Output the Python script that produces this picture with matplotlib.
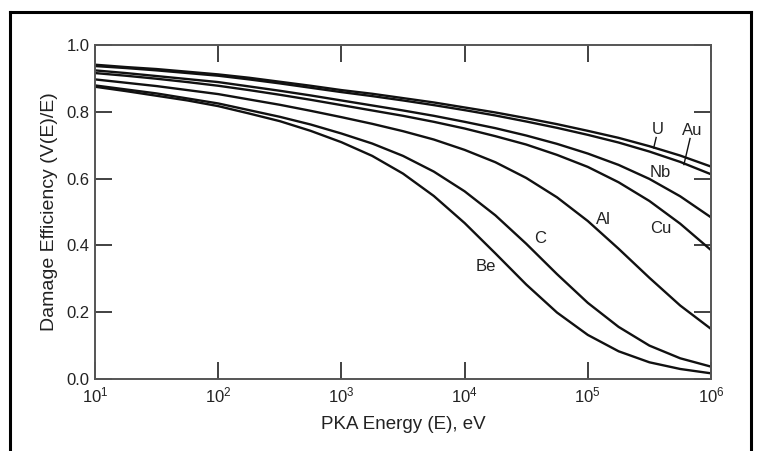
import matplotlib
matplotlib.use("Agg")
import matplotlib.pyplot as plt
from matplotlib.lines import Line2D

plt.rcParams['font.family'] = ['Liberation Sans', 'DejaVu Sans']
plt.rcParams['mathtext.default'] = 'regular'

# PKA energy grid (eV), quarter-decade steps from 10^1 to 10^6
log_energy = [1.0, 1.25, 1.5, 1.75, 2.0, 2.25, 2.5, 2.75, 3.0, 3.25, 3.5,
              3.75, 4.0, 4.25, 4.5, 4.75, 5.0, 5.25, 5.5, 5.75, 6.0]
energy = [10 ** v for v in log_energy]

# Damage efficiency
eff_U = [0.941, 0.934, 0.928, 0.920, 0.912, 0.902, 0.890, 0.878, 0.865, 0.854,
         0.841, 0.828, 0.813, 0.798, 0.781, 0.763, 0.743, 0.722, 0.697, 0.669, 0.636]
eff_Au = [0.937, 0.931, 0.924, 0.916, 0.908, 0.897, 0.885, 0.872, 0.859, 0.847,
          0.834, 0.820, 0.805, 0.789, 0.771, 0.752, 0.731, 0.708, 0.681, 0.650, 0.613]
eff_Nb = [0.924, 0.916, 0.907, 0.898, 0.889, 0.876, 0.863, 0.849, 0.834, 0.819,
          0.804, 0.788, 0.770, 0.751, 0.729, 0.704, 0.675, 0.641, 0.599, 0.547, 0.484]
eff_Cu = [0.916, 0.908, 0.899, 0.889, 0.878, 0.865, 0.851, 0.836, 0.820, 0.804,
          0.788, 0.770, 0.750, 0.727, 0.702, 0.671, 0.635, 0.589, 0.533, 0.465, 0.386]
eff_Al = [0.897, 0.887, 0.877, 0.865, 0.853, 0.837, 0.821, 0.803, 0.784, 0.764,
          0.742, 0.717, 0.686, 0.649, 0.602, 0.544, 0.473, 0.390, 0.303, 0.220, 0.150]
eff_C = [0.879, 0.867, 0.855, 0.840, 0.825, 0.805, 0.785, 0.762, 0.735, 0.705,
         0.668, 0.621, 0.562, 0.490, 0.405, 0.314, 0.228, 0.156, 0.100, 0.062, 0.037]
eff_Be = [0.875, 0.862, 0.848, 0.834, 0.817, 0.795, 0.772, 0.743, 0.709, 0.668,
          0.615, 0.548, 0.467, 0.376, 0.283, 0.199, 0.132, 0.083, 0.050, 0.030, 0.017]

series = [eff_U, eff_Au, eff_Nb, eff_Cu, eff_Al, eff_C, eff_Be]

# curve labels and positions (log10 E, efficiency)
label_names = ['U', 'Au', 'Nb', 'Cu', 'Al', 'C', 'Be']
label_logE = [5.57, 5.85, 5.59, 5.59, 5.13, 4.61, 4.17]
label_eff = [0.747, 0.744, 0.617, 0.452, 0.477, 0.420, 0.338]

# leader lines for U and Au
leader_U_logE = [5.555, 5.535]
leader_U_eff = [0.723, 0.692]
leader_Au_logE = [5.83, 5.78]
leader_Au_eff = [0.720, 0.642]

x_ticks = [1e1, 1e2, 1e3, 1e4, 1e5, 1e6]
x_ticklabels = ['$10^{1}$', '$10^{2}$', '$10^{3}$', '$10^{4}$', '$10^{5}$', '$10^{6}$']
y_ticks = [0.0, 0.2, 0.4, 0.6, 0.8, 1.0]
y_ticklabels = ['0.0', '0.2', '0.4', '0.6', '0.8', '1.0']

fig = plt.figure(figsize=(7.61, 4.51), dpi=100)
ax = fig.add_axes([95 / 761, 1 - 379 / 451, (711 - 95) / 761, (379 - 45) / 451])

for s in series:
    ax.plot(energy, s, color='#111111', lw=1.7, solid_capstyle='round')

ax.plot([10 ** v for v in leader_U_logE], leader_U_eff, color='#111111', lw=1.0)
ax.plot([10 ** v for v in leader_Au_logE], leader_Au_eff, color='#111111', lw=1.0)

for name, lx, ly in zip(label_names, label_logE, label_eff):
    ax.text(10 ** lx, ly, name, fontsize=12, ha='center', va='center', color='#222222')

ax.set_xscale('log')
ax.set_xlim(1e1, 1e6)
ax.set_ylim(0.0, 1.0)
ax.set_xticks(x_ticks)
ax.set_xticklabels(x_ticklabels)
ax.set_yticks(y_ticks)
ax.set_yticklabels(y_ticklabels)
ax.minorticks_off()
ax.tick_params(axis='both', which='major', direction='in', length=12, width=1.3,
               color='#333333', labelsize=12, top=True, right=True, labelcolor='#222222')
ax.tick_params(axis='x', pad=5)
ax.tick_params(axis='y', pad=4)
for sp in ax.spines.values():
    sp.set_color('#555555')
    sp.set_linewidth(1.4)

ax.set_xlabel('PKA Energy (E), eV', fontsize=13.5, color='#222222', labelpad=7)
ax.set_ylabel('Damage Efficiency (V(E)/E)', fontsize=14, color='#222222', labelpad=6)

# outer frame
for xs, ys in [([10, 10], [12, 451]), ([10, 751], [12, 12]), ([751, 751], [12, 451])]:
    fig.add_artist(Line2D([x / 761 for x in xs], [1 - y / 451 for y in ys],
                          transform=fig.transFigure, color='black', lw=2.2))

fig.savefig('out.png', dpi=100)
